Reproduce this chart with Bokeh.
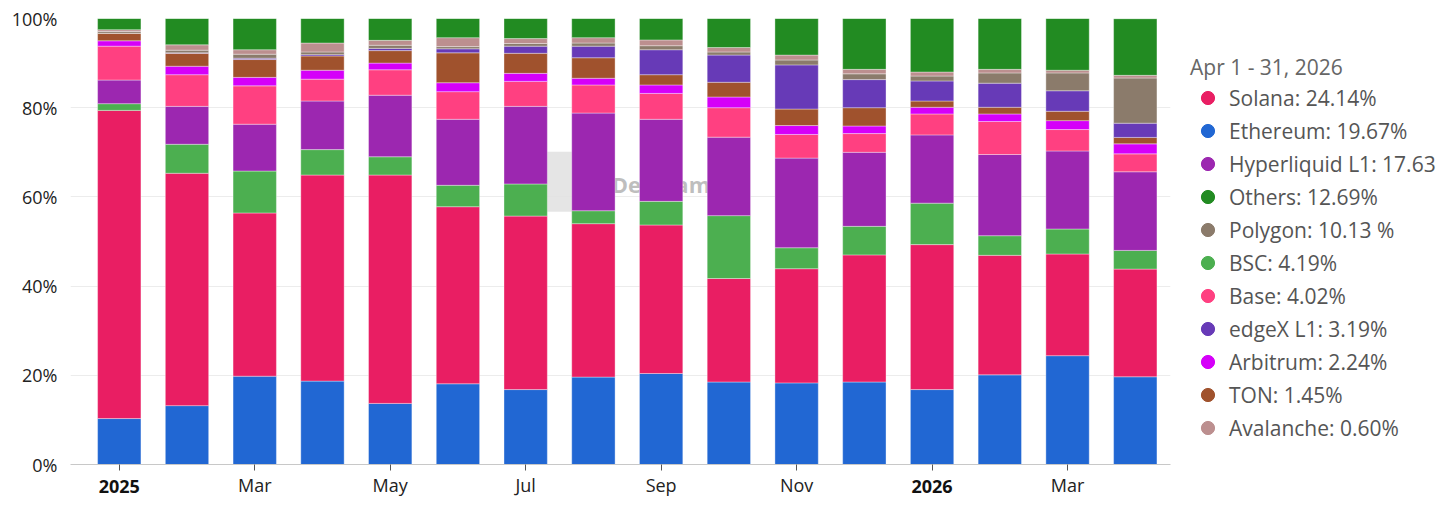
from bokeh.plotting import figure
from bokeh.models import (ColumnDataSource, Range1d, FixedTicker, Legend, LegendItem, LinearAxis)
from bokeh.core.properties import value
from bokeh.embed import file_html
from bokeh.resources import INLINE

# ---- data (share of total, %) ----
months = ["Jan 2025", "Feb 2025", "Mar 2025", "Apr 2025", "May 2025", "Jun 2025",
          "Jul 2025", "Aug 2025", "Sep 2025", "Oct 2025", "Nov 2025", "Dec 2025",
          "Jan 2026", "Feb 2026", "Mar 2026", "Apr 2026"]
ethereum = [10.3, 13.2, 19.8, 18.7, 13.7, 18.1, 16.8, 19.6, 20.4, 18.5, 18.3, 18.5, 16.8, 20.1, 24.4, 19.67]
solana = [69.1, 52.1, 36.6, 46.2, 51.2, 39.7, 38.9, 34.4, 33.3, 23.2, 25.6, 28.5, 32.5, 26.8, 22.8, 24.14]
bsc = [1.5, 6.5, 9.4, 5.7, 4.1, 4.8, 7.2, 2.9, 5.3, 14.1, 4.7, 6.4, 9.3, 4.4, 5.6, 4.19]
hyperliquid = [5.3, 8.5, 10.5, 10.9, 13.8, 14.8, 17.4, 21.9, 18.4, 17.6, 20.1, 16.6, 15.3, 18.2, 17.5, 17.63]
base = [7.6, 7.1, 8.6, 4.9, 5.7, 6.2, 5.6, 6.3, 5.8, 6.6, 5.3, 4.2, 4.7, 7.4, 4.8, 4.02]
arbitrum = [1.2, 1.9, 1.9, 2.0, 1.5, 2.0, 1.8, 1.5, 1.9, 2.4, 2.0, 1.7, 1.5, 1.7, 2.0, 2.24]
ton = [1.7, 2.9, 4.0, 3.2, 2.8, 6.7, 4.5, 4.6, 2.3, 3.3, 3.7, 4.1, 1.4, 1.5, 2.1, 1.45]
edgex = [0.0, 0.1, 0.3, 0.3, 0.5, 0.9, 1.6, 2.6, 5.6, 6.1, 9.9, 6.3, 4.5, 5.4, 4.6, 3.19]
polygon = [0.4, 0.6, 0.9, 0.6, 0.7, 0.5, 0.6, 0.7, 0.9, 0.7, 1.1, 1.3, 1.1, 2.3, 4.0, 10.13]
avalanche = [0.4, 1.2, 1.0, 2.0, 1.1, 2.0, 1.1, 1.2, 1.3, 1.0, 1.1, 1.0, 0.9, 0.8, 0.6, 0.60]
others = [2.5, 6.0, 7.0, 5.5, 4.9, 4.3, 4.5, 4.3, 4.8, 6.5, 8.2, 11.4, 12.0, 11.4, 11.6, 12.69]

tick_labels = ["2025", "Mar", "May", "Jul", "Sep", "Nov", "2026", "Mar"]
y_ticks = [0, 20, 40, 60, 80, 100]
legend_title = "Apr 1 - 31, 2026"
legend_labels = {
    "Solana": "Solana: 24.14%",
    "Ethereum": "Ethereum: 19.67%",
    "Hyperliquid L1": "Hyperliquid L1: 17.63",
    "Others": "Others: 12.69%",
    "Polygon": "Polygon: 10.13 %",
    "BSC": "BSC: 4.19%",
    "Base": "Base: 4.02%",
    "edgeX L1": "edgeX L1: 3.19%",
    "Arbitrum": "Arbitrum: 2.24%",
    "TON": "TON: 1.45%",
    "Avalanche": "Avalanche: 0.60%",
}
watermark = "DefiLlama"

# stacking order bottom -> top
stack_names = ["Ethereum", "Solana", "BSC", "Hyperliquid L1", "Base", "Arbitrum",
               "TON", "edgeX L1", "Polygon", "Avalanche", "Others"]
stack_values = [ethereum, solana, bsc, hyperliquid, base, arbitrum, ton, edgex, polygon, avalanche, others]
colors = {
    "Ethereum": "#2167d3", "Solana": "#e91e63", "BSC": "#4caf50", "Hyperliquid L1": "#9c27b0",
    "Base": "#ff4081", "Arbitrum": "#d500f9", "TON": "#a0522d", "edgeX L1": "#673ab7",
    "Polygon": "#8b7b6b", "Avalanche": "#bc8f8f", "Others": "#228b22",
}
legend_order = ["Solana", "Ethereum", "Hyperliquid L1", "Others", "Polygon", "BSC", "Base",
                "edgeX L1", "Arbitrum", "TON", "Avalanche"]

FONT = "Open Sans"

data = {"x": list(range(len(months))), "month": months}
for name, vals in zip(stack_names, stack_values):
    data[name] = vals
source = ColumnDataSource(data)

p = figure(frame_width=1100, frame_height=446, output_backend="svg", toolbar_location=None,
           x_range=Range1d(-0.72, len(months) - 0.48), y_range=Range1d(0, 100),
           x_axis_location=None,
           min_border_left=70, min_border_top=18, min_border_bottom=0, min_border_right=0)
p.outline_line_color = None
p.background_fill_color = "white"
p.border_fill_color = "white"

# faint watermark (logo block + name) behind the bars
p.rect(x=[6.68], y=[63.4], width=0.8, height=13.5, fill_color="#e2e2e2", line_color=None,
       fill_alpha=0.9)
p.text(x=[7.27], y=[63.0], text=[watermark], text_font=value(FONT), text_font_size="22px",
       text_font_style="bold", text_color="#a9a9a9", text_alpha=0.75,
       text_align="left", text_baseline="middle")

p.vbar_stack(stack_names, x="x", width=0.64, source=source,
             color=[colors[n] for n in stack_names], line_color="white", line_width=0.6,
             line_alpha=0.6)

# y axis
p.yaxis.ticker = FixedTicker(ticks=y_ticks)
p.yaxis.major_label_overrides = {t: f"{t}%" for t in y_ticks}
p.yaxis.axis_line_color = None
p.yaxis.major_tick_line_color = None
p.yaxis.minor_tick_line_color = None
p.yaxis.major_tick_out = 0
p.yaxis.major_tick_in = 0
p.yaxis.major_label_standoff = 13
p.yaxis.major_label_text_font = FONT
p.yaxis.major_label_text_font_size = "18px"
p.yaxis.major_label_text_color = "#222222"
p.ygrid.ticker = FixedTicker(ticks=y_ticks)
p.ygrid.grid_line_color = "#ececec"
p.xgrid.grid_line_color = None

# x axis: month labels (normal) with tick marks
x_tick_pos = list(range(0, len(months), 2))
month_axis = LinearAxis(ticker=FixedTicker(ticks=x_tick_pos))
month_axis.major_label_overrides = {pos: ("" if lab.isdigit() else lab)
                                    for pos, lab in zip(x_tick_pos, tick_labels)}
month_axis.axis_line_color = "#c8c8c8"
month_axis.major_tick_line_color = "#555555"
month_axis.major_tick_in = 0
month_axis.major_tick_out = 6
month_axis.minor_tick_line_color = None
month_axis.major_label_standoff = 2
month_axis.major_label_text_font = FONT
month_axis.major_label_text_font_size = "18px"
month_axis.major_label_text_color = "#222222"
p.add_layout(month_axis, "below")

# second x axis: bold year labels pulled up onto the same line
year_pos = [pos for pos, lab in zip(x_tick_pos, tick_labels) if lab.isdigit()]
year_axis = LinearAxis(ticker=FixedTicker(ticks=year_pos))
year_axis.major_label_overrides = {pos: lab for pos, lab in zip(x_tick_pos, tick_labels) if lab.isdigit()}
year_axis.axis_line_color = None
year_axis.major_tick_line_color = None
year_axis.minor_tick_line_color = None
year_axis.major_tick_in = 0
year_axis.major_tick_out = 0
year_axis.major_label_standoff = -20
year_axis.major_label_text_font = FONT
year_axis.major_label_text_font_size = "18px"
year_axis.major_label_text_font_style = "bold"
year_axis.major_label_text_color = "#111111"
p.add_layout(year_axis, "below")

# legend with circle markers
items = []
for name in legend_order:
    r = p.scatter(x=[float("nan")], y=[float("nan")], marker="circle", size=14,
                  fill_color=colors[name], line_color=colors[name])
    items.append(LegendItem(label=legend_labels[name], renderers=[r]))

legend = Legend(items=items, location="bottom_left", title=legend_title,
                title_text_font=FONT, title_text_font_size="21px", title_text_font_style="normal",
                title_text_color="#666666", title_standoff=0,
                label_text_font=FONT, label_text_font_size="21px", label_text_color="#555555",
                glyph_width=35, glyph_height=33, label_height=20, spacing=0, label_standoff=4,
                padding=0, margin=20, border_line_color=None, background_fill_alpha=0)
p.add_layout(legend, "right")

open("out.html", "w").write(file_html(p, INLINE))
